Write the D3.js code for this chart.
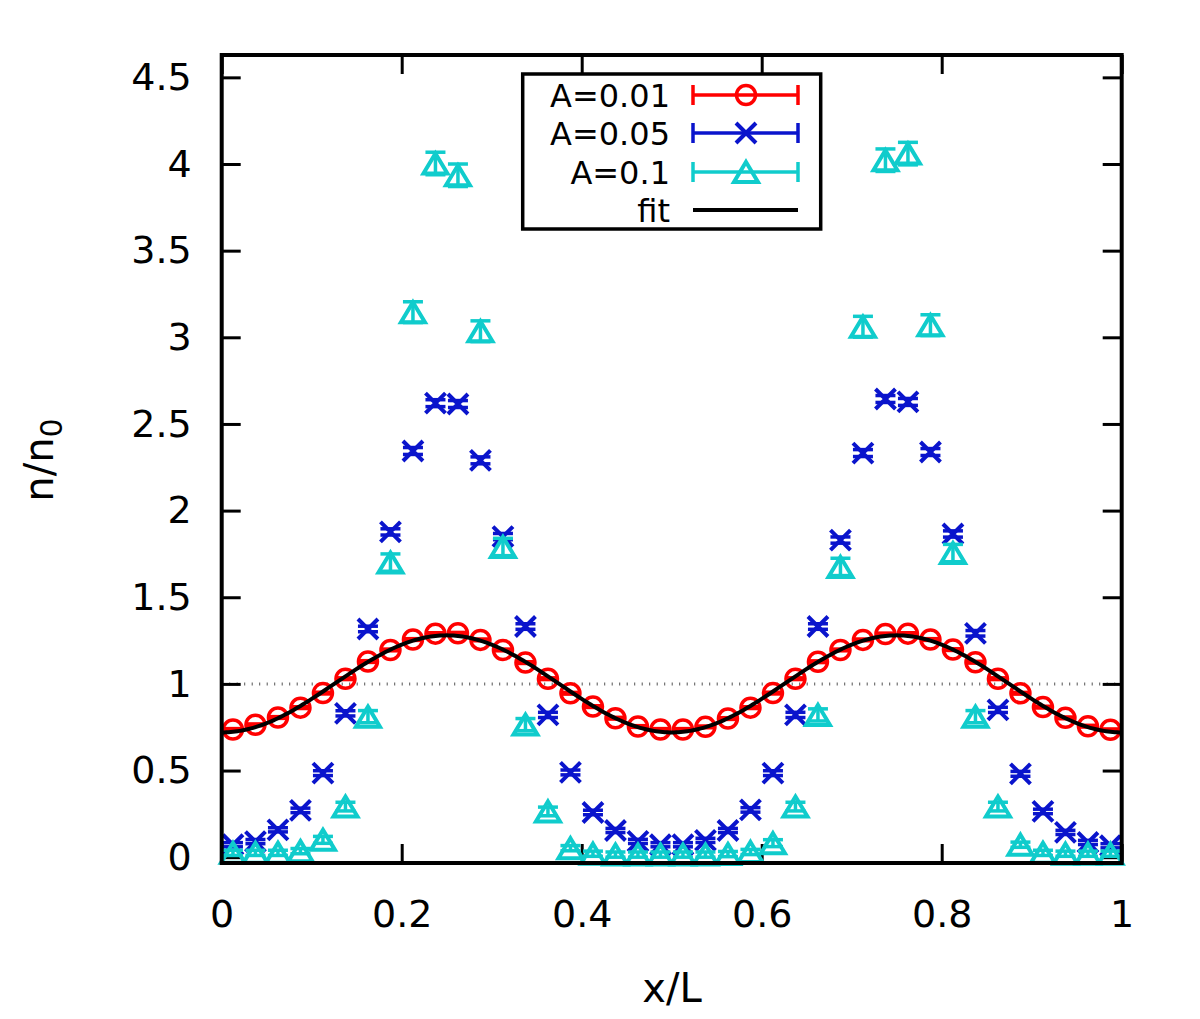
<!DOCTYPE html>
<html>
<head>
<meta charset="utf-8">
<script src="https://cdn.jsdelivr.net/npm/d3@7"></script>
<style>
  body { margin: 0; background: #fff; }
  text { font-family: "DejaVu Sans", sans-serif; }
</style>
</head>
<body>
<div id="chart"></div>
<script>
// sample positions x/L
var xs = [0.0125, 0.0375, 0.0625, 0.0875, 0.1125, 0.1375, 0.1625, 0.1875, 0.2125, 0.2375,
          0.2625, 0.2875, 0.3125, 0.3375, 0.3625, 0.3875, 0.4125, 0.4375, 0.4625, 0.4875,
          0.5125, 0.5375, 0.5625, 0.5875, 0.6125, 0.6375, 0.6625, 0.6875, 0.7125, 0.7375,
          0.7625, 0.7875, 0.8125, 0.8375, 0.8625, 0.8875, 0.9125, 0.9375, 0.9625, 0.9875];

// A=0.01
var a001 = [0.737, 0.764, 0.806, 0.863, 0.947, 1.030, 1.129, 1.196, 1.256, 1.290,
            1.292, 1.254, 1.196, 1.123, 1.030, 0.946, 0.869, 0.802, 0.754, 0.737,
            0.737, 0.752, 0.800, 0.863, 0.947, 1.030, 1.128, 1.196, 1.254, 1.288,
            1.290, 1.256, 1.198, 1.125, 1.030, 0.946, 0.866, 0.804, 0.756, 0.735];
var a001err = [0.005, 0.005, 0.005, 0.005, 0.005, 0.005, 0.005, 0.005, 0.005, 0.005,
               0.005, 0.005, 0.005, 0.005, 0.005, 0.005, 0.005, 0.005, 0.005, 0.005,
               0.005, 0.005, 0.005, 0.005, 0.005, 0.005, 0.005, 0.005, 0.005, 0.005,
               0.005, 0.005, 0.005, 0.005, 0.005, 0.005, 0.005, 0.005, 0.005, 0.005];

// A=0.05
var a005 = [0.072, 0.090, 0.158, 0.270, 0.485, 0.830, 1.317, 1.877, 2.344, 2.620,
            2.615, 2.290, 1.850, 1.331, 0.821, 0.489, 0.258, 0.154, 0.091, 0.072,
            0.072, 0.097, 0.154, 0.273, 0.485, 0.821, 1.331, 1.830, 2.332, 2.644,
            2.627, 2.338, 1.865, 1.292, 0.850, 0.481, 0.264, 0.143, 0.085, 0.066];
var a005err = [0.012, 0.012, 0.012, 0.013, 0.014, 0.015, 0.016, 0.018, 0.02, 0.02,
               0.02, 0.02, 0.018, 0.016, 0.015, 0.014, 0.013, 0.012, 0.012, 0.012,
               0.012, 0.012, 0.012, 0.013, 0.014, 0.015, 0.016, 0.018, 0.02, 0.02,
               0.02, 0.02, 0.018, 0.016, 0.015, 0.014, 0.013, 0.012, 0.012, 0.012];

// A=0.1
var a01 = [0.025, 0.025, 0.025, 0.035, 0.100, 0.292, 0.811, 1.700, 3.145, 4.003,
           3.935, 3.035, 1.790, 0.765, 0.264, 0.052, 0.020, 0.015, 0.015, 0.015,
           0.015, 0.015, 0.018, 0.030, 0.081, 0.292, 0.821, 1.675, 3.061, 4.022,
           4.060, 3.070, 1.755, 0.811, 0.292, 0.072, 0.025, 0.020, 0.020, 0.020];
var a01err = [0.015, 0.015, 0.015, 0.015, 0.02, 0.025, 0.035, 0.05, 0.06, 0.065,
              0.065, 0.06, 0.05, 0.035, 0.025, 0.015, 0.015, 0.015, 0.015, 0.015,
              0.015, 0.015, 0.015, 0.015, 0.02, 0.025, 0.035, 0.05, 0.06, 0.065,
              0.065, 0.06, 0.05, 0.035, 0.025, 0.015, 0.015, 0.015, 0.015, 0.015];

// fit parameters: n/n0 = offset - amp*cos(2*pi*x/period)
var fitOffset = 1.0, fitAmp = 0.28, fitPeriod = 0.5;

var xTicks = [0, 0.2, 0.4, 0.6, 0.8, 1];
var xTickLabels = ["0", "0.2", "0.4", "0.6", "0.8", "1"];
var yTicks = [0, 0.5, 1, 1.5, 2, 2.5, 3, 3.5, 4, 4.5];
var yTickLabels = ["0", "0.5", "1", "1.5", "2", "2.5", "3", "3.5", "4", "4.5"];
var legendLabels = ["A=0.01", "A=0.05", "A=0.1", "fit"];

var W = 1200, H = 1019;
var plot = {left: 221.7, right: 1121.7, top: 55, bottom: 863};

var svg = d3.select("#chart")
  .append("svg")
    .attr("width", W)
    .attr("height", H);

var x = d3.scaleLinear()
  .domain([0, 1])
  .range([plot.left, plot.right]);

var y = d3.scaleLinear()
  .domain([-0.0335, 4.629])
  .range([plot.bottom, plot.top]);

var red = "#ff0000", blue = "#0a14cc", cyan = "#10cccc";

// dotted reference line at 1
svg.append("line")
  .attr("x1", x(0)).attr("x2", x(1))
  .attr("y1", y(1)).attr("y2", y(1))
  .attr("stroke", "#555")
  .attr("stroke-width", 3)
  .attr("stroke-dasharray", "1,6.5");

// axes (ticks pointing inward, mirrored on top/right)
function styleAxis(g) {
  g.select(".domain").remove();
  g.selectAll(".tick line").attr("stroke", "#000").attr("stroke-width", 3);
  g.selectAll(".tick text")
    .attr("fill", "#000")
    .style("font-family", "'DejaVu Sans', sans-serif")
    .style("font-size", "38px");
}

svg.append("g")
  .attr("transform", "translate(0," + plot.bottom + ")")
  .call(d3.axisBottom(x).tickValues(xTicks).tickSize(-19).tickPadding(37)
    .tickFormat(function(d, i) { return xTickLabels[i]; }))
  .call(styleAxis);

svg.append("g")
  .attr("transform", "translate(0," + plot.top + ")")
  .call(d3.axisTop(x).tickValues(xTicks).tickSize(-19).tickFormat(""))
  .call(styleAxis);

svg.append("g")
  .attr("transform", "translate(" + plot.left + ",0)")
  .call(d3.axisLeft(y).tickValues(yTicks).tickSize(-19).tickPadding(30)
    .tickFormat(function(d, i) { return yTickLabels[i]; }))
  .call(styleAxis);

svg.append("g")
  .attr("transform", "translate(" + plot.right + ",0)")
  .call(d3.axisRight(y).tickValues(yTicks).tickSize(-19).tickFormat(""))
  .call(styleAxis);

// markers
var crossPath = "M-10,-10L10,10M-10,10L10,-10";
var triPath = "M0,-10L12,10L-12,10Z";

function errorBars(vals, errs, color) {
  var g = svg.append("g")
    .attr("stroke", color)
    .attr("stroke-width", 3.5)
    .attr("fill", "none");
  var data = xs.map(function(d, i) { return {x: d, v: vals[i], e: errs[i]}; });
  var pts = g.selectAll("g").data(data).enter().append("g");
  pts.append("line")
    .attr("x1", function(d) { return x(d.x); })
    .attr("x2", function(d) { return x(d.x); })
    .attr("y1", function(d) { return y(d.v - d.e); })
    .attr("y2", function(d) { return y(d.v + d.e); });
  pts.append("line")
    .attr("x1", function(d) { return x(d.x) - 10; })
    .attr("x2", function(d) { return x(d.x) + 10; })
    .attr("y1", function(d) { return y(d.v - d.e); })
    .attr("y2", function(d) { return y(d.v - d.e); });
  pts.append("line")
    .attr("x1", function(d) { return x(d.x) - 10; })
    .attr("x2", function(d) { return x(d.x) + 10; })
    .attr("y1", function(d) { return y(d.v + d.e); })
    .attr("y2", function(d) { return y(d.v + d.e); });
  return pts;
}

var redPts = errorBars(a001, a001err, red);
redPts.append("circle")
  .attr("cx", function(d) { return x(d.x); })
  .attr("cy", function(d) { return y(d.v); })
  .attr("r", 9.5);

var bluePts = errorBars(a005, a005err, blue);
bluePts.append("path")
  .attr("d", crossPath)
  .attr("stroke-width", 4)
  .attr("transform", function(d) { return "translate(" + x(d.x) + "," + y(d.v) + ")"; });

var cyanPts = errorBars(a01, a01err, cyan);
cyanPts.append("path")
  .attr("d", triPath)
  .attr("stroke-width", 4)
  .attr("transform", function(d) { return "translate(" + x(d.x) + "," + y(d.v) + ")"; });

// fit curve
var fitData = d3.range(0, 1.00001, 0.0025).map(function(t) {
  return {x: t, v: fitOffset - fitAmp * Math.cos(2 * Math.PI * t / fitPeriod)};
});
svg.append("path")
  .datum(fitData)
  .attr("fill", "none")
  .attr("stroke", "#000")
  .attr("stroke-width", 4)
  .attr("d", d3.line()
    .x(function(d) { return x(d.x); })
    .y(function(d) { return y(d.v); }));

// frame
svg.append("rect")
  .attr("x", plot.left).attr("y", plot.top)
  .attr("width", plot.right - plot.left)
  .attr("height", plot.bottom - plot.top)
  .attr("fill", "none")
  .attr("stroke", "#000")
  .attr("stroke-width", 4);

// legend
var leg = svg.append("g");
leg.append("rect")
  .attr("x", 522.7).attr("y", 74)
  .attr("width", 298).attr("height", 155)
  .attr("fill", "#fff")
  .attr("stroke", "#000")
  .attr("stroke-width", 3.5);

var legColors = [red, blue, cyan, "#000"];
var rowY = [95, 133, 172, 210];
legendLabels.forEach(function(lab, i) {
  var ry = rowY[i];
  leg.append("text")
    .attr("x", 670).attr("y", ry + 11.5)
    .attr("text-anchor", "end")
    .style("font-size", "32px")
    .text(lab);
  var g = leg.append("g")
    .attr("stroke", legColors[i])
    .attr("fill", "none")
    .attr("stroke-width", 3.5);
  g.append("line").attr("x1", 693).attr("x2", 798).attr("y1", ry).attr("y2", ry)
    .attr("stroke-width", i == 3 ? 4 : 3.5);
  if (i < 3) {
    g.append("line").attr("x1", 693).attr("x2", 693).attr("y1", ry - 10).attr("y2", ry + 10);
    g.append("line").attr("x1", 798).attr("x2", 798).attr("y1", ry - 10).attr("y2", ry + 10);
  }
  if (i == 0) g.append("circle").attr("cx", 746).attr("cy", ry).attr("r", 9.5);
  if (i == 1) g.append("path").attr("d", crossPath).attr("stroke-width", 4)
    .attr("transform", "translate(746," + ry + ")");
  if (i == 2) g.append("path").attr("d", triPath).attr("stroke-width", 4)
    .attr("transform", "translate(746," + ry + ")");
});

// axis labels
svg.append("text")
  .attr("x", 672).attr("y", 1002)
  .attr("text-anchor", "middle")
  .style("font-size", "40px")
  .text("x/L");

var yl = svg.append("text")
  .attr("transform", "translate(53,460) rotate(-90)")
  .attr("text-anchor", "middle")
  .style("font-size", "40px");
yl.append("tspan").text("n/n");
yl.append("tspan").attr("dy", 9).style("font-size", "30px").text("0");
</script>
</body>
</html>
